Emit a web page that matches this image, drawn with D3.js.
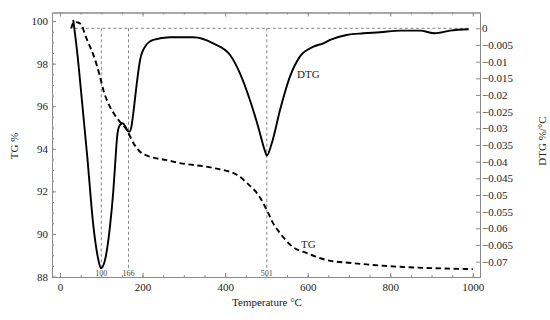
<!DOCTYPE html>
<html><head><meta charset="utf-8">
<script src="https://cdn.jsdelivr.net/npm/d3@7"></script>
<style>
body{margin:0;background:#fff;}
svg text{font-family:"Liberation Serif","Times New Roman",serif;}
</style></head>
<body><svg id="c" width="550" height="320"></svg>
<script>
// ---- data ----
const tgT = [27, 34, 44, 53, 61, 71, 81, 89, 97, 105, 121, 133, 145, 162, 178, 194, 218, 258, 291, 371, 429, 453, 484, 501, 516, 533, 564, 598, 647, 710, 775, 1000];
const tgV = [99.65, 99.95, 99.93, 99.78, 99.34, 98.87, 98.40, 97.93, 97.38, 96.76, 95.97, 95.58, 95.27, 94.88, 94.26, 93.86, 93.63, 93.47, 93.33, 93.10, 92.77, 92.39, 91.73, 91.12, 90.51, 90.04, 89.39, 89.10, 88.77, 88.63, 88.52, 88.35];
const dtgT = [32, 41, 53, 66, 81, 93, 99, 109, 121, 129, 134, 138, 141, 146, 152, 158, 163, 168, 173, 178, 186, 194, 206, 226, 266, 323, 371, 412, 436, 460, 480, 497, 501, 513, 533, 557, 581, 614, 638, 654, 694, 735, 775, 824, 872, 908, 945, 990];
const dtgV = [0.0025, -0.0065, -0.0215, -0.0385, -0.0595, -0.0695, -0.0720, -0.0695, -0.0595, -0.0490, -0.0400, -0.0330, -0.0303, -0.0289, -0.0285, -0.0294, -0.0306, -0.0310, -0.0295, -0.0250, -0.0165, -0.0095, -0.0055, -0.0035, -0.0027, -0.0027, -0.0045, -0.0080, -0.0135, -0.0215, -0.0295, -0.0370, -0.0382, -0.0345, -0.0245, -0.0145, -0.0085, -0.0055, -0.0045, -0.0035, -0.0020, -0.0015, -0.0012, -0.0007, -0.0007, -0.0015, -0.0007, -0.0003];
const xTicks = [0, 200, 400, 600, 800, 1000];
const tgTicks = [88, 90, 92, 94, 96, 98, 100];
const dtgTicks = [0, -0.005, -0.01, -0.015, -0.02, -0.025, -0.03, -0.035, -0.04, -0.045, -0.05, -0.055, -0.06, -0.065, -0.07];
const markers = [100, 166, 501];

// ---- layout ----
const L = 52, R = 480, T = 12.5, B = 277;
const svg = d3.select("#c");
const x = d3.scaleLinear().domain([-19.4, 1017.4]).range([L, R]);
const yTG = d3.scaleLinear().domain([87.98, 100.4]).range([B, T]);
const yD = d3.scaleLinear().domain([-0.0746, 0.00474]).range([B, T]);
const axisCol = "#8a8a8a";

function style(g){
  g.selectAll("path.domain").attr("stroke", axisCol);
  g.selectAll(".tick line").attr("stroke", axisCol);
  g.selectAll(".tick text").attr("fill", "#222").style("font-size", "11px");
}
const minorX = d3.range(0, 1001, 50);
const minorTG = d3.range(88, 100.01, 0.5);

// bottom
svg.append("g").attr("transform", `translate(0,${B})`)
  .call(d3.axisBottom(x).tickValues(minorX).tickSize(-2).tickSizeOuter(0).tickFormat(""))
  .call(style);
svg.append("g").attr("transform", `translate(0,${B})`)
  .call(d3.axisBottom(x).tickValues(xTicks).tickSize(-4).tickSizeOuter(0).tickPadding(6).tickFormat(d3.format("d")))
  .call(style);
// top
svg.append("g").attr("transform", `translate(0,${T})`)
  .call(d3.axisTop(x).tickValues(minorX).tickSize(-2).tickSizeOuter(0).tickFormat(""))
  .call(style);
svg.append("g").attr("transform", `translate(0,${T})`)
  .call(d3.axisTop(x).tickValues(xTicks).tickSize(-4).tickSizeOuter(0).tickFormat(""))
  .call(style);
// left
svg.append("g").attr("transform", `translate(${L},0)`)
  .call(d3.axisLeft(yTG).tickValues(minorTG).tickSize(-2).tickSizeOuter(0).tickFormat(""))
  .call(style);
svg.append("g").attr("transform", `translate(${L},0)`)
  .call(d3.axisLeft(yTG).tickValues(tgTicks).tickSize(-4).tickSizeOuter(0).tickPadding(4).tickFormat(d3.format("d")))
  .call(style);
// right
svg.append("g").attr("transform", `translate(${R},0)`)
  .call(d3.axisRight(yD).tickValues(dtgTicks).tickSize(-4).tickSizeOuter(0).tickPadding(2)
    .tickFormat(d => d === 0 ? "0" : "\u2212" + (+Math.abs(d).toFixed(3)).toString()))
  .call(style);

// reference lines
svg.append("line").attr("x1", x(36)).attr("x2", x(993)).attr("y1", yD(0)).attr("y2", yD(0))
  .attr("stroke", "#777").attr("stroke-width", 0.9).attr("stroke-dasharray", "3,2.5");
markers.forEach(m => {
  svg.append("line").attr("x1", x(m)).attr("x2", x(m)).attr("y1", yD(0)).attr("y2", 268)
    .attr("stroke", "#777").attr("stroke-width", 0.9).attr("stroke-dasharray", "3,2.5");
  svg.append("text").attr("x", x(m)).attr("y", 275.5).attr("text-anchor", "middle")
    .style("font-size", "8px").attr("fill", "#444").text(m);
});

// curves
const tgLine = d3.line().x(d => x(d[0])).y(d => yTG(d[1])).curve(d3.curveMonotoneX);
const dtgLine = d3.line().x(d => x(d[0])).y(d => yD(d[1])).curve(d3.curveMonotoneX);
svg.append("path").datum(tgT.map((t, i) => [t, tgV[i]])).attr("d", tgLine)
  .attr("fill", "none").attr("stroke", "#000").attr("stroke-width", 1.9).attr("stroke-dasharray", "5.5,3.5");
svg.append("path").datum(dtgT.map((t, i) => [t, dtgV[i]])).attr("d", dtgLine)
  .attr("fill", "none").attr("stroke", "#000").attr("stroke-width", 1.9);

// labels
svg.append("text").attr("x", 297).attr("y", 78).style("font-size", "11px").attr("fill", "#222").text("DTG");
svg.append("text").attr("x", 301).attr("y", 247.5).style("font-size", "11px").attr("fill", "#222").text("TG");
svg.append("text").attr("x", (L + R) / 2 + 1).attr("y", 306).attr("text-anchor", "middle")
  .style("font-size", "11px").attr("fill", "#222").text("Temperature \u00B0C");
svg.append("text").attr("transform", "translate(18,146) rotate(-90)").attr("text-anchor", "middle")
  .style("font-size", "11px").attr("fill", "#222").text("TG %");
svg.append("text").attr("transform", "translate(546,141) rotate(-90)").attr("text-anchor", "middle")
  .style("font-size", "11px").attr("fill", "#222").text("DTG %/\u00B0C");
</script></body></html>
